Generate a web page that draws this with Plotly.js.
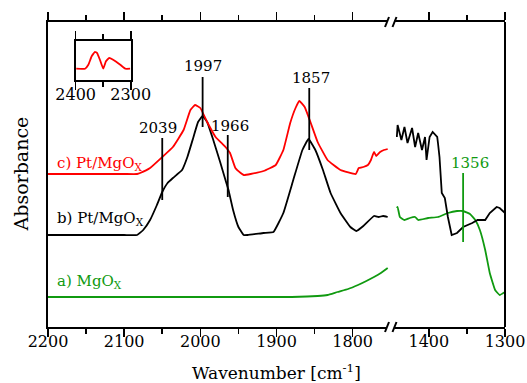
<!DOCTYPE html>
<html><head><meta charset="utf-8">
<script src="https://cdn.plot.ly/plotly-3.0.1.min.js"></script>
<style>html,body{margin:0;padding:0;background:#fff}#chart{width:527px;height:383px}</style>
</head><body><div id="chart"></div>
<script>
// ---- data (wavenumber in cm-1, absorbance in arbitrary offset units) ----
const redWaveL  = [2200,2150,2100,2083,2079,2066,2050,2036,2022,2013,2007,2000,1991,1980,1967,1961,1954,1947,1943,1934,1917,1901,1891,1882,1875,1870,1863,1855,1846,1833,1816,1796,1792,1786,1780,1776,1772,1769,1764,1759,1754];
const redAbsL   = [1.53,1.53,1.53,1.53,1.54,1.59,1.70,1.80,1.97,2.17,2.22,2.19,2.05,1.90,1.80,1.74,1.59,1.54,1.52,1.53,1.56,1.62,1.77,2.04,2.19,2.26,2.20,2.04,1.85,1.67,1.57,1.53,1.59,1.60,1.62,1.67,1.75,1.71,1.75,1.77,1.78];

const blackWaveL = [2200,2150,2100,2083,2075,2066,2057,2050,2043,2036,2024,2017,2009,2003,1997,1991,1983,1974,1967,1963,1957,1950,1943,1938,1917,1904,1891,1878,1866,1858,1849,1839,1829,1816,1803,1795,1786,1772,1766,1760,1754];
const blackAbsL  = [0.92,0.92,0.92,0.92,0.97,1.07,1.22,1.35,1.44,1.49,1.57,1.70,1.90,2.05,2.11,2.05,1.87,1.65,1.47,1.37,1.17,1.00,0.92,0.92,0.94,0.95,1.14,1.47,1.77,1.88,1.77,1.57,1.34,1.14,1.00,0.96,1.01,1.11,1.10,1.11,1.10];

const blackWaveR = [1442,1441,1436,1432,1428,1422,1418,1414,1409,1405,1403,1399,1395,1389,1388,1386,1383,1379,1375,1372,1370,1363,1355,1343,1336,1326,1320,1311,1307,1300];
const blackAbsR  = [1.90,2.02,1.87,2.00,1.84,1.99,1.80,1.94,1.77,1.90,1.67,1.90,1.95,1.90,1.84,1.70,1.34,1.29,1.10,0.99,0.92,0.94,1.00,1.04,1.07,1.07,1.14,1.20,1.19,1.14];

const greenWaveL = [2200,2100,2000,1900,1880,1860,1846,1833,1820,1806,1793,1782,1772,1763,1754];
const greenAbsL  = [0.30,0.30,0.30,0.30,0.30,0.305,0.31,0.32,0.35,0.38,0.42,0.46,0.50,0.54,0.59];

const greenWaveR = [1442,1441,1438,1432,1425,1418,1414,1401,1388,1375,1363,1355,1346,1339,1333,1326,1320,1313,1307,1300];
const greenAbsR  = [1.19,1.20,1.10,1.07,1.09,1.10,1.07,1.09,1.10,1.14,1.16,1.16,1.13,1.07,0.97,0.77,0.54,0.37,0.32,0.35];

const insetWave = [2399,2383,2377,2371,2365,2361,2356,2350,2345,2339,2332,2319,2310,2301];
const insetAbs  = [0.28,0.28,0.38,0.60,0.71,0.68,0.51,0.28,0.47,0.56,0.51,0.38,0.28,0.28];

// tick labels
const majorTicksL = [2200,2100,2000,1900,1800];
const minorTicksL = [2150,2050,1950,1850];
const majorTicksR = [1400,1300];
const minorTicksR = [1350];
const insetMajor = [2400,2300];
const insetMinor = [2350];

// peak markers (position of drawn line, label text)
const peakLabels = ['2039','1997','1966','1857'];
const peakLineWave = [2050,1997,1964,1857];
const peakLineLow  = [1.27,2.00,1.30,1.77];
const peakLineHigh = [1.89,2.50,1.92,2.39];
const peakLabelWave = [2055,1997,1961,1855];
const peakLabelAbs  = [1.99,2.61,2.01,2.49];

const mgoPeakLabel = '1356';
const mgoLineWave = 1355, mgoLineLow = 0.85, mgoLineHigh = 1.54;

const sampleLabels = ['c) Pt/MgO<sub>X</sub>','b) Pt/MgO<sub>X</sub>','a) MgO<sub>X</sub>'];

// ---- styles ----
const FONT = 'DejaVu Serif';
const RED = '#ff0000', BLACK = '#000000', GREEN = '#109a10';

function tr(x, y, color, xa, shape) {
  return {x:x, y:y, xaxis:xa, yaxis: xa==='x3'?'y3':'y', type:'scatter', mode:'lines',
    line:{color:color, width:1.8, shape:shape||'spline', smoothing:0.3}, hoverinfo:'skip'};
}
const traces = [
  tr(greenWaveL, greenAbsL, GREEN, 'x'),
  tr(blackWaveL, blackAbsL, BLACK, 'x'),
  tr(redWaveL, redAbsL, RED, 'x'),
  tr(greenWaveR, greenAbsR, GREEN, 'x2'),
  tr(blackWaveR, blackAbsR, BLACK, 'x2', 'linear'),
  tr(insetWave, insetAbs, RED, 'x3')
];

function xax(domain, range, major, minor, extra) {
  return Object.assign({domain:domain, range:range, anchor:'y', showline:true, linecolor:'#000', linewidth:2,
    mirror:'ticks', ticks:'outside', ticklen:8, tickwidth:1.6, tickcolor:'#000',
    tickmode:'array', tickvals:major, ticktext:major.map(String), ticklabelstandoff:-9,
    minor:{tickvals:minor, ticks:'outside', ticklen:5, tickwidth:1.6, tickcolor:'#000'},
    showgrid:false, zeroline:false, tickfont:{family:FONT, size:16, color:'#000'}}, extra||{});
}

const shapes = [];
// right border of the plot
shapes.push({type:'line', xref:'paper', yref:'paper', x0:1, x1:1, y0:0, y1:1, line:{color:'#000', width:2}});
// axis-break marks on bottom and top axes
const pxW = 457, pxH = 305;
[0,1].forEach(yy => {
  shapes.push({type:'rect', xref:'paper', yref:'paper', x0:0.7418, x1:0.7582, y0:yy-0.012, y1:yy+0.012,
    fillcolor:'#fff', line:{width:0}, layer:'above'});
  [0.7418,0.7582].forEach(xx => {
    shapes.push({type:'line', xref:'paper', yref:'paper', x0:xx-2/pxW, x1:xx+2/pxW, y0:yy-5/pxH, y1:yy+5/pxH,
      line:{color:'#000', width:2}, layer:'above'});
  });
});
// peak marker lines
peakLineWave.forEach((w,i) => shapes.push({type:'line', xref:'x', yref:'y', x0:w, x1:w,
  y0:peakLineLow[i], y1:peakLineHigh[i], line:{color:'#000', width:1.8}}));
shapes.push({type:'line', xref:'x2', yref:'y', x0:mgoLineWave, x1:mgoLineWave, y0:mgoLineLow, y1:mgoLineHigh,
  line:{color:GREEN, width:1.8}});

const annotations = [];
peakLabels.forEach((t,i) => annotations.push({text:t, xref:'x', yref:'y', x:peakLabelWave[i], y:peakLabelAbs[i],
  showarrow:false, xanchor:'center', yanchor:'middle', font:{family:FONT, size:15, color:'#000'}}));
annotations.push({text:mgoPeakLabel, xref:'x2', yref:'y', x:1346, y:1.64, showarrow:false,
  xanchor:'center', yanchor:'middle', font:{family:FONT, size:15, color:GREEN}});
const sampleColors = [RED, BLACK, GREEN];
const sampleY = [1.64, 1.09, 0.46];
sampleLabels.forEach((t,i) => annotations.push({text:t, xref:'x', yref:'y', x:2191, y:sampleY[i],
  showarrow:false, xanchor:'left', yanchor:'middle', font:{family:FONT, size:15, color:sampleColors[i]}}));
// axis titles
annotations.push({text:'Wavenumber [cm<sup>-1</sup>]', xref:'paper', yref:'paper', x:0.5, y:-45/pxH,
  showarrow:false, xanchor:'center', yanchor:'middle', font:{family:FONT, size:17, color:'#000'}});
annotations.push({text:'Absorbance', xref:'paper', yref:'paper', x:-28/pxW, y:0.5, textangle:-90,
  showarrow:false, xanchor:'center', yanchor:'middle', font:{family:FONT, size:19, color:'#000'}});

const layout = {
  width:527, height:383,
  margin:{l:48, r:22, t:22, b:56},
  paper_bgcolor:'#fff', plot_bgcolor:'rgba(0,0,0,0)',
  showlegend:false,
  font:{family:FONT, size:16, color:'#000'},
  xaxis: xax([0,0.75], [2200,1750], majorTicksL, minorTicksL),
  xaxis2: xax([0.75,1], [1450,1300], majorTicksR, minorTicksR),
  yaxis: {domain:[0,1], range:[0,3.05], anchor:'x', showline:true, linecolor:'#000', linewidth:2,
    mirror:false, ticks:'', showticklabels:false, showgrid:false, zeroline:false},
  xaxis3: xax([0.0606,0.181], [2400,2300], insetMajor, insetMinor, {anchor:'y3'}),
  yaxis3: {domain:[0.811,0.939], range:[0,1], anchor:'x3', showline:true, linecolor:'#000', linewidth:2,
    mirror:true, ticks:'', showticklabels:false, showgrid:false, zeroline:false},
  shapes: shapes,
  annotations: annotations
};

Plotly.newPlot('chart', traces, layout, {staticPlot:true, displayModeBar:false});
</script>
</body></html>
